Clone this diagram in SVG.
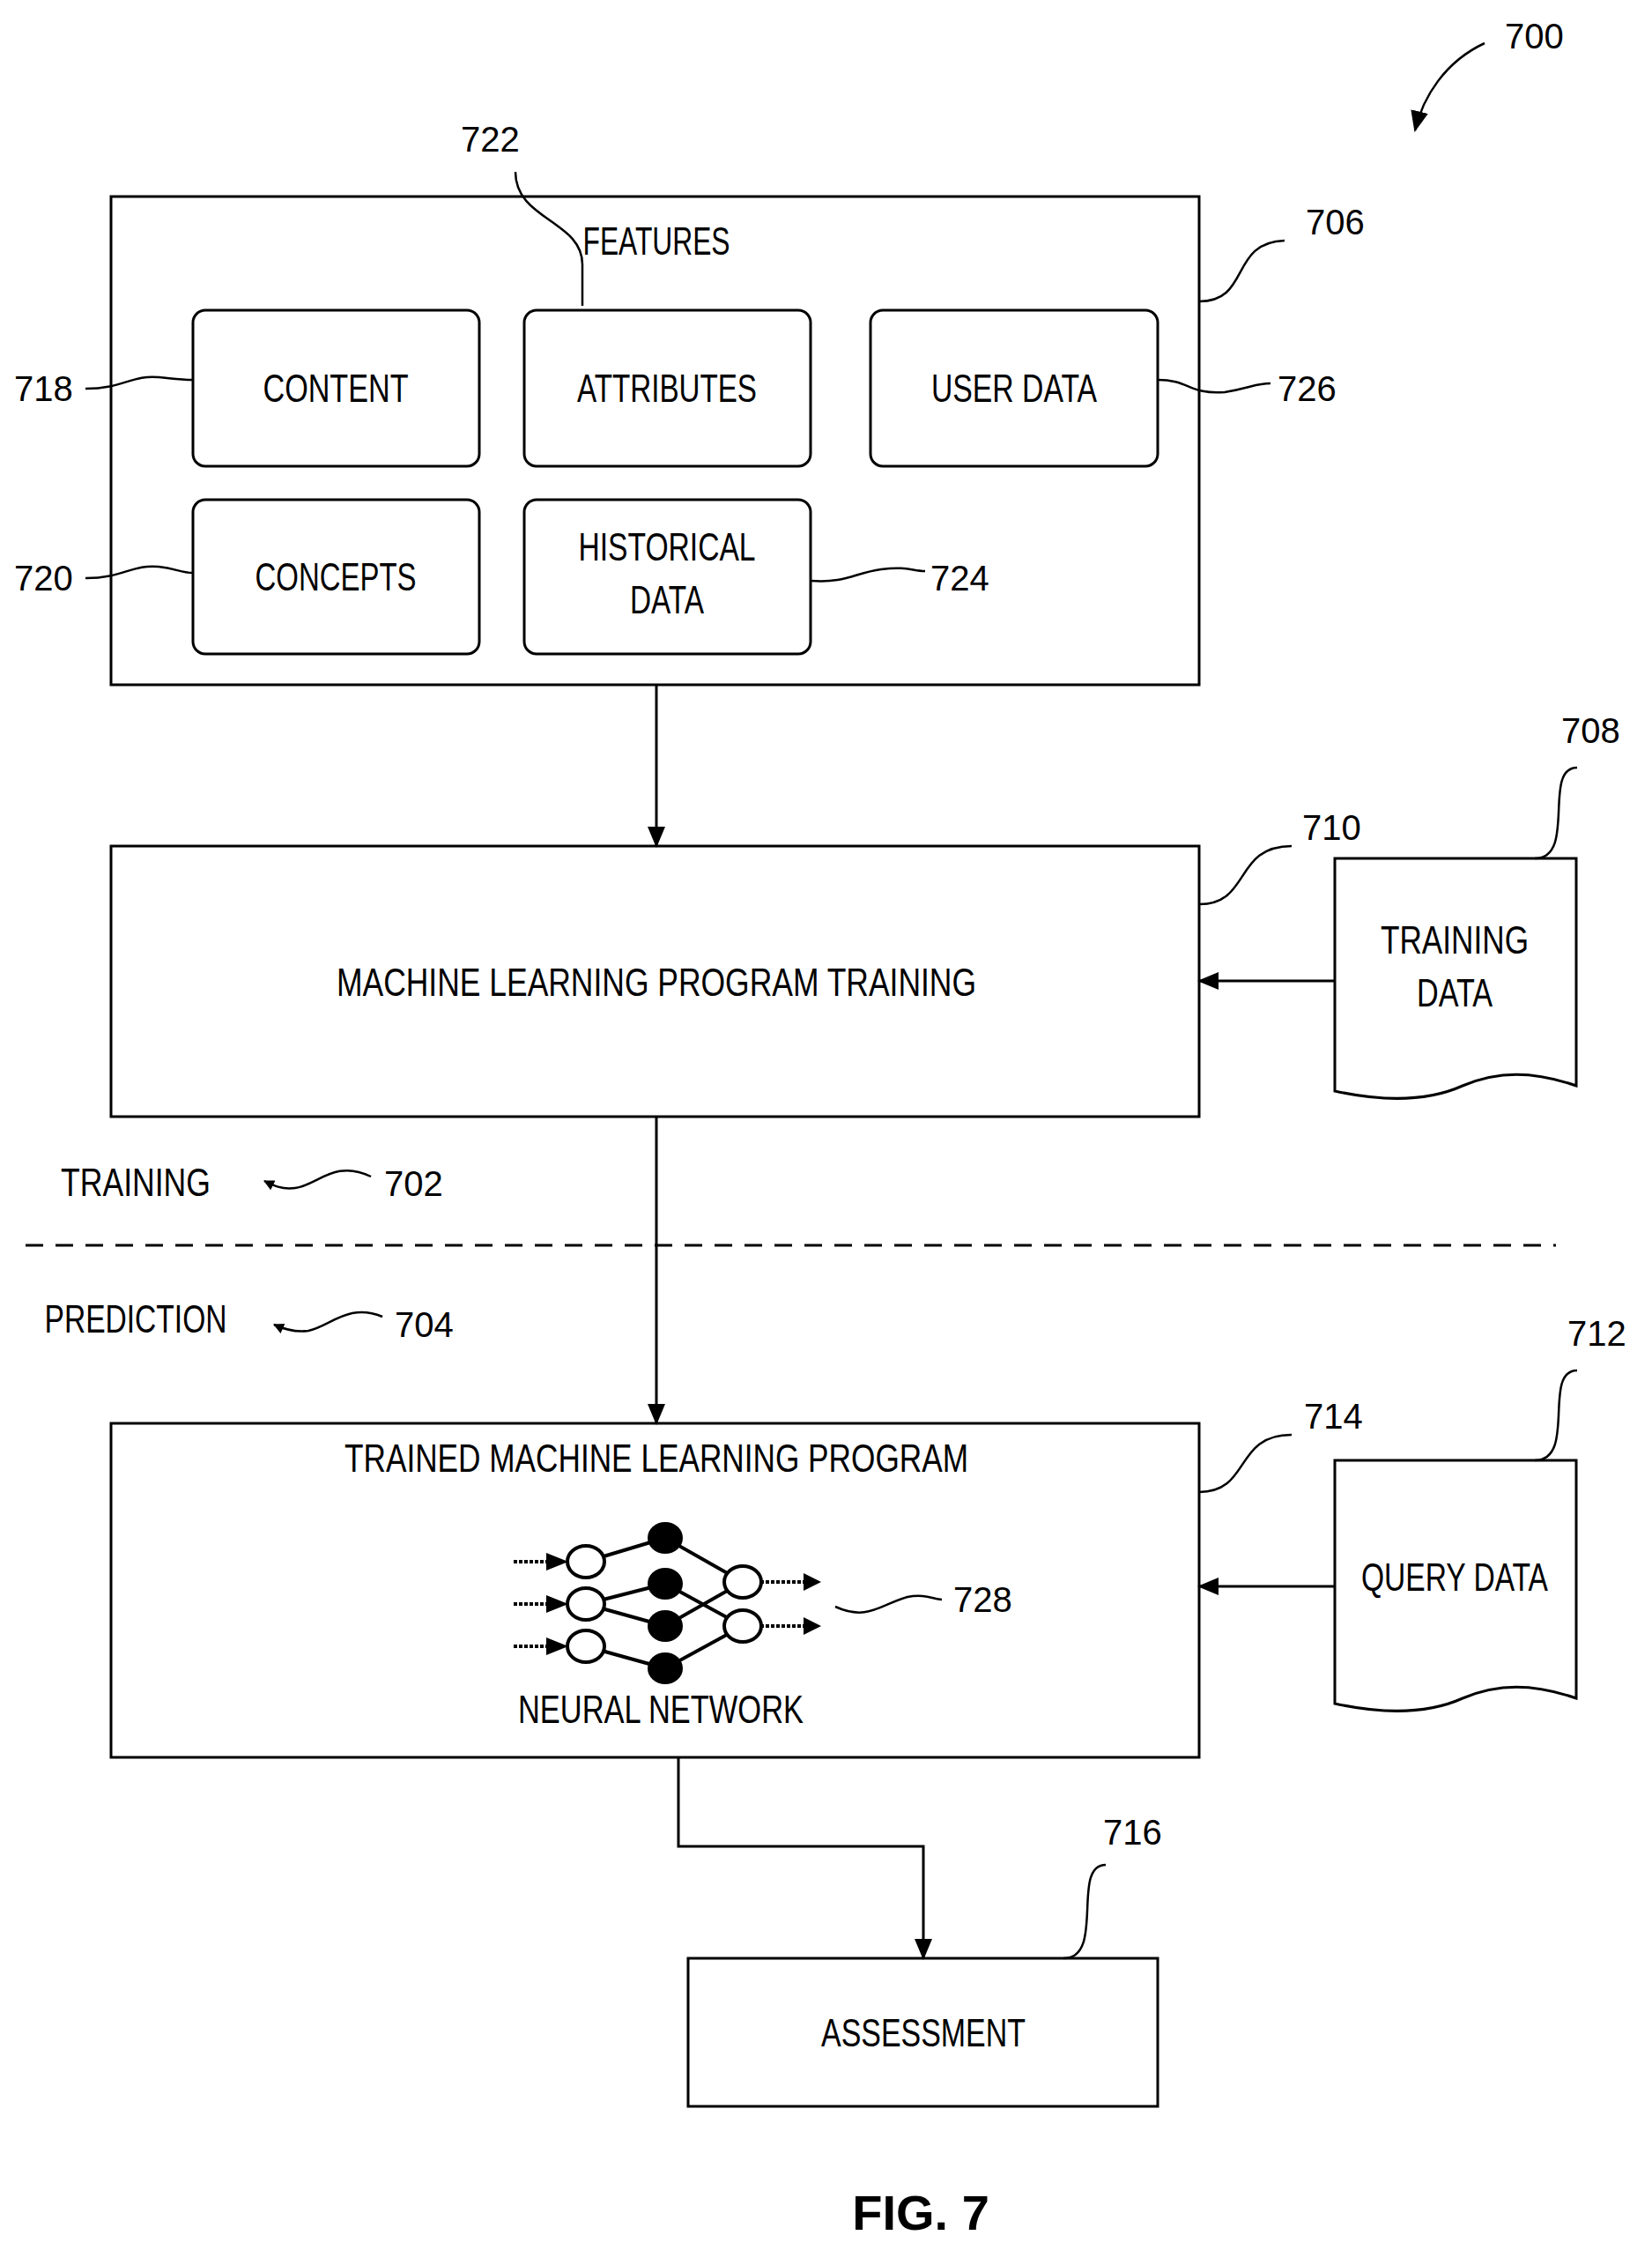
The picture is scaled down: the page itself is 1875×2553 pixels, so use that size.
<svg xmlns="http://www.w3.org/2000/svg" width="1875" height="2553" viewBox="0 0 1875 2553">
<defs>
<style>
.b{fill:none;stroke:#000;stroke-width:3}
.l{fill:none;stroke:#000;stroke-width:2.5}
.t{font-family:"Liberation Sans",Arial,sans-serif;font-size:44px;fill:#000;text-anchor:middle}
.n{font-family:"Liberation Sans",Arial,sans-serif;font-size:40px;fill:#000}
</style>
<marker id="a" markerWidth="12" markerHeight="12" refX="11" refY="6" orient="auto" markerUnits="userSpaceOnUse" viewBox="0 0 12 12"><path d="M0,0 L12,6 L0,12 Z" fill="#000"/></marker>
<marker id="A" markerWidth="24" markerHeight="24" refX="22" refY="12" orient="auto" markerUnits="userSpaceOnUse" viewBox="0 0 24 24"><path d="M0,2 L24,12 L0,22 Z" fill="#000"/></marker>
</defs>
<rect width="1875" height="2553" fill="#fff"/>

<g id="features">
<rect class="b" x="126" y="223" width="1235" height="554"/>
<text class="t" x="745" y="289" textLength="167" lengthAdjust="spacingAndGlyphs">FEATURES</text>
</g>
<g id="content"><rect class="b" x="219" y="352" width="325" height="177" rx="14"/><text class="t" x="381" y="456" textLength="165" lengthAdjust="spacingAndGlyphs">CONTENT</text></g>
<g id="attributes"><rect class="b" x="595" y="352" width="325" height="177" rx="14"/><text class="t" x="757" y="456" textLength="204" lengthAdjust="spacingAndGlyphs">ATTRIBUTES</text></g>
<g id="userdata"><rect class="b" x="988" y="352" width="326" height="177" rx="14"/><text class="t" x="1151" y="456" textLength="188" lengthAdjust="spacingAndGlyphs">USER DATA</text></g>
<g id="concepts"><rect class="b" x="219" y="567" width="325" height="175" rx="14"/><text class="t" x="381" y="670" textLength="183" lengthAdjust="spacingAndGlyphs">CONCEPTS</text></g>
<g id="historical"><rect class="b" x="595" y="567" width="325" height="175" rx="14"/><text class="t" x="757" y="636" textLength="201" lengthAdjust="spacingAndGlyphs">HISTORICAL</text><text class="t" x="757" y="696" textLength="84" lengthAdjust="spacingAndGlyphs">DATA</text></g>

<g id="mltraining"><rect class="b" x="126" y="960" width="1235" height="307"/><text class="t" x="745" y="1130" textLength="726" lengthAdjust="spacingAndGlyphs">MACHINE LEARNING PROGRAM TRAINING</text></g>
<g id="trainingdata"><path class="b" d="M1515,974 H1789 V1232 C1740,1215 1700,1215 1660,1232 C1620,1250 1570,1250 1515,1238 Z"/><text class="t" x="1651" y="1082" textLength="168" lengthAdjust="spacingAndGlyphs">TRAINING</text><text class="t" x="1651" y="1142" textLength="86" lengthAdjust="spacingAndGlyphs">DATA</text></g>

<g id="trained"><rect class="b" x="126" y="1615" width="1235" height="379"/><text class="t" x="745" y="1670" textLength="708" lengthAdjust="spacingAndGlyphs">TRAINED MACHINE LEARNING PROGRAM</text><text class="t" x="750" y="1955" textLength="324" lengthAdjust="spacingAndGlyphs">NEURAL NETWORK</text></g>
<g id="nn">
<g stroke="#000" stroke-width="4" fill="none">
<path d="M665,1772 L755,1745 M665,1820 L755,1797 M665,1820 L755,1845 M665,1868 L755,1893 M755,1745 L843,1795 M755,1797 L843,1845 M755,1845 L843,1795 M755,1893 L843,1845"/>
<path d="M583,1772 H640 M583,1820 H640 M583,1868 H640 M863,1795 H920 M863,1845 H920" stroke-dasharray="4 2"/>
</g>
<path d="M620,1762 L645,1772 L620,1782 Z M620,1810 L645,1820 L620,1830 Z M620,1858 L645,1868 L620,1878 Z M912,1785 L932,1795 L912,1805 Z M912,1835 L932,1845 L912,1855 Z" fill="#000"/>
<g fill="#fff" stroke="#000" stroke-width="4"><ellipse cx="665" cy="1772" rx="21" ry="18"/><ellipse cx="665" cy="1820" rx="21" ry="18"/><ellipse cx="665" cy="1868" rx="21" ry="18"/><ellipse cx="843" cy="1795" rx="21" ry="18"/><ellipse cx="843" cy="1845" rx="21" ry="18"/></g>
<g fill="#000"><ellipse cx="755" cy="1745" rx="20" ry="18"/><ellipse cx="755" cy="1797" rx="20" ry="18"/><ellipse cx="755" cy="1845" rx="20" ry="18"/><ellipse cx="755" cy="1893" rx="20" ry="18"/></g>
</g>
<g id="querydata"><path class="b" d="M1515,1657 H1789 V1927 C1740,1910 1700,1910 1660,1927 C1620,1945 1570,1945 1515,1933 Z"/><text class="t" x="1651" y="1805" textLength="212" lengthAdjust="spacingAndGlyphs">QUERY DATA</text></g>
<g id="assessment"><rect class="b" x="781" y="2222" width="533" height="168"/><text class="t" x="1048" y="2322" textLength="232" lengthAdjust="spacingAndGlyphs">ASSESSMENT</text></g>

<g id="phases">
<text class="t" x="154" y="1357" textLength="170" lengthAdjust="spacingAndGlyphs">TRAINING</text>
<text class="t" x="154" y="1512" textLength="207" lengthAdjust="spacingAndGlyphs">PREDICTION</text>
<line x1="29" y1="1413" x2="1766" y2="1413" stroke="#000" stroke-width="3" stroke-dasharray="20 14"/>
</g>

<g id="connectors">
<line class="b" x1="745" y1="777" x2="745" y2="960" marker-end="url(#A)"/>
<line class="b" x1="1515" y1="1113" x2="1361" y2="1113" marker-end="url(#A)"/>
<line class="b" x1="745" y1="1267" x2="745" y2="1615" marker-end="url(#A)"/>
<line class="b" x1="1515" y1="1800" x2="1361" y2="1800" marker-end="url(#A)"/>
<path class="b" d="M770,1994 V2095 H1048 V2222" marker-end="url(#A)"/>
</g>

<g id="labels">
<path class="l" d="M1685,49 C1640,70 1615,110 1606,148" marker-end="url(#A)"/>
<text class="n" x="1708" y="55">700</text>
<path class="l" d="M1361,342 C1420,342 1395,275 1458,273"/><text class="n" x="1482" y="266">706</text>
<path class="l" d="M661,347 V300 C661,250 585,250 585,195"/><text class="n" x="523" y="172">722</text>
<path class="l" d="M97,441 C140,441 150,425 180,428 C200,430 205,431 219,431"/><text class="n" x="16" y="455">718</text>
<path class="l" d="M97,656 C140,656 150,640 180,643 C200,645 205,650 219,650"/><text class="n" x="16" y="670">720</text>
<path class="l" d="M1314,431 C1350,431 1350,448 1390,445 C1420,440 1425,435 1442,435"/><text class="n" x="1450" y="455">726</text>
<path class="l" d="M920,659 C960,662 970,650 1000,646 C1030,642 1035,648 1050,648"/><text class="n" x="1056" y="670">724</text>
<path class="l" d="M1361,1026 C1420,1026 1400,960 1466,960"/><text class="n" x="1478" y="953">710</text>
<path class="l" d="M1742,974 C1790,974 1750,871 1790,871"/><text class="n" x="1772" y="843">708</text>
<path class="l" d="M1361,1693 C1420,1693 1400,1628 1466,1628"/><text class="n" x="1480" y="1621">714</text>
<path class="l" d="M1742,1657 C1790,1657 1750,1555 1790,1555"/><text class="n" x="1779" y="1527">712</text>
<path class="l" d="M948,1823 C985,1840 1000,1820 1030,1812 C1050,1808 1060,1815 1069,1815"/><text class="n" x="1082" y="1829">728</text>
<path class="l" d="M1207,2222 C1255,2222 1215,2116 1255,2116"/><text class="n" x="1252" y="2093">716</text>
<path class="l" d="M421,1335 C380,1315 360,1345 335,1348 C320,1350 310,1345 300,1340" marker-end="url(#a)"/><text class="n" x="436" y="1357">702</text>
<path class="l" d="M434,1494 C395,1478 375,1505 350,1510 C335,1512 322,1508 311,1503" marker-end="url(#a)"/><text class="n" x="448" y="1517">704</text>
</g>
<text x="1045" y="2530" font-family="Liberation Sans,Arial,sans-serif" font-size="56" font-weight="bold" text-anchor="middle">FIG. 7</text>
</svg>
